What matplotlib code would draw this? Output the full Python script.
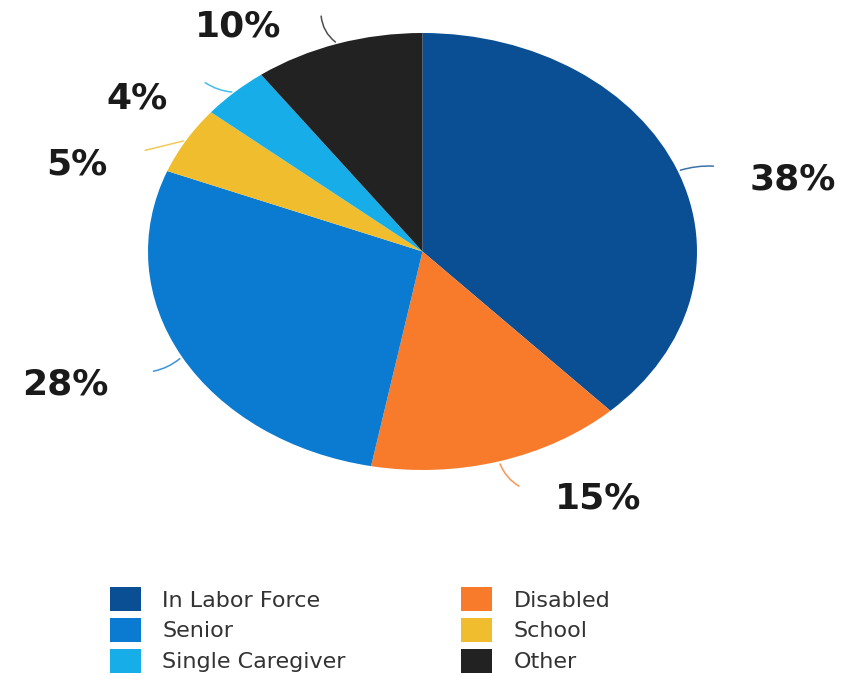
import matplotlib.pyplot as plt
import numpy as np

categories = ["In Labor Force", "Disabled", "Senior", "School", "Single Caregiver", "Other"]
shares = [38, 15, 28, 5, 4, 10]
colors = ["#0a4f94", "#f77b2b", "#0a7bd0", "#f0bd2e", "#17ade8", "#222222"]
pct_labels = ["38%", "15%", "28%", "5%", "4%", "10%"]

# where the percentage text and the end of its leader line go (axes data units)
text_pos = [(1.35, 0.33), (0.64, -1.13), (-1.30, -0.61), (-1.26, 0.40), (-1.04, 0.70), (-0.67, 1.03)]
line_end = [(1.07, 0.39), (0.36, -1.08), (-0.99, -0.55), (-1.02, 0.46), (-0.80, 0.78), (-0.37, 1.09)]
line_rad = [0.1, -0.2, 0.15, 0.0, 0.15, 0.25]

fig = plt.figure(figsize=(8.46, 6.75), dpi=100)
ax = fig.add_axes([148 / 846, 1 - 470 / 675, 549 / 846, 437 / 675])

wedges, _ = ax.pie(shares, colors=colors, startangle=90, counterclock=False,
                   wedgeprops=dict(linewidth=0))
ax.set_aspect("auto")
ax.set_xlim(-1, 1)
ax.set_ylim(-1, 1)
ax.axis("off")

for w, lab, tp, le, rad, c in zip(wedges, pct_labels, text_pos, line_end, line_rad, colors):
    mid = np.deg2rad((w.theta1 + w.theta2) / 2)
    start = (np.cos(mid), np.sin(mid))
    ax.annotate("", xy=start, xytext=le, annotation_clip=False,
                arrowprops=dict(arrowstyle="-", color=c, alpha=0.8, lw=1.1,
                                connectionstyle="arc3,rad=%s" % rad))
    ax.text(tp[0], tp[1], lab, ha="center", va="center", fontsize=26,
            fontweight="bold", color="#1a1a1a", clip_on=False)

# legend, column by column
order = [0, 2, 4, 1, 3, 5]
leg = fig.legend([wedges[i] for i in order], [categories[i] for i in order],
                 ncol=2, loc="upper left", bbox_to_anchor=(110 / 846, 1 - 587 / 675),
                 frameon=False, fontsize=16, handlelength=1.4, handleheight=1.3,
                 handletextpad=0.95, labelspacing=0.3, columnspacing=5.2,
                 borderpad=0, borderaxespad=0)
for t in leg.get_texts():
    t.set_color("#333333")

fig.savefig("out.png", dpi=100)
